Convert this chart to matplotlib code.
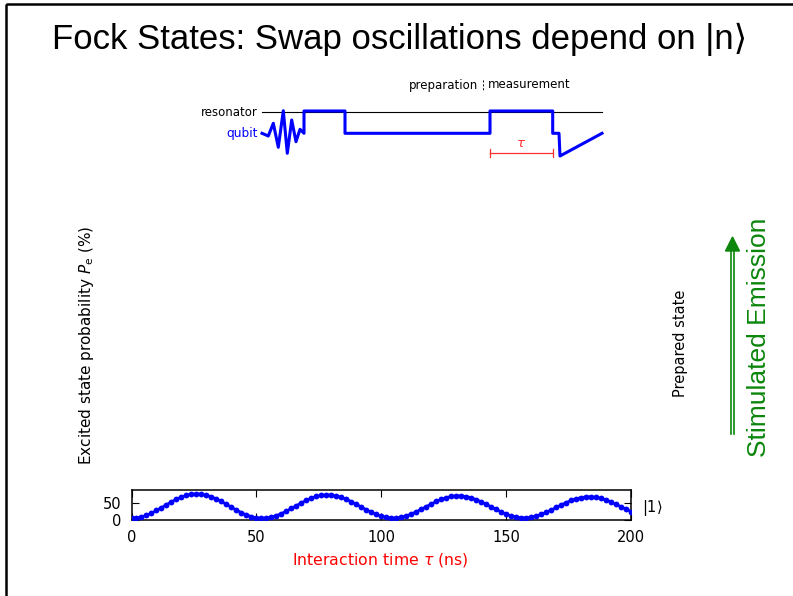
import numpy as np
import matplotlib
matplotlib.use('Agg')
import matplotlib.pyplot as plt
from matplotlib.patches import Rectangle, Polygon

plt.rcParams['font.family'] = ['DejaVu Sans']
plt.rcParams['mathtext.fontset'] = 'dejavusans'

# 
# swap oscillation data, prepared state |1>, one point every 2 ns
# 
tau_ns = np.arange(0, 201, 2)
pe_n1 = [5.0, 6.1, 9.3, 14.3, 20.9, 28.8, 37.3, 46.2, 54.8, 62.6,
         69.2, 74.2, 77.4, 78.6, 77.6, 74.6, 69.8, 63.3, 55.7, 47.3,
         38.6, 30.1, 22.3, 15.6, 10.4, 7.0, 5.6, 6.2, 8.9, 13.4,
         19.4, 26.7, 34.8, 43.2, 51.4, 59.1, 65.6, 70.7, 74.1, 75.6,
         75.1, 72.6, 68.4, 62.5, 55.4, 47.5, 39.2, 31.1, 23.5, 16.9,
         11.6, 8.0, 6.3, 6.5, 8.7, 12.6, 18.1, 24.8, 32.3, 40.3,
         48.2, 55.6, 62.1, 67.2, 70.8, 72.6, 72.5, 70.5, 66.8, 61.5,
         55.0, 47.6, 39.8, 31.9, 24.6, 18.1, 12.8, 9.1, 7.0, 6.9,
         8.6, 12.0, 16.9, 23.0, 30.1, 37.6, 45.2, 52.3, 58.6, 63.8,
         67.5, 69.6, 69.8, 68.3, 65.0, 60.3, 54.3, 47.4, 40.1, 32.6,
         25.5]
x_ticks = [0, 50, 100, 150, 200]
y_ticks = [0, 50]

# 
# pulse sequence sketch (pixel units of the slide)
# 
qubit_x = [262, 268.3, 273.3, 278.3, 283.3, 287.3, 291.7, 296, 300, 304,
           304, 345, 345, 490, 490, 552.7, 552.7, 559, 560, 602]
qubit_y = [133.3, 136, 123.3, 147.3, 110.7, 153.3, 120, 141.7, 129.3, 133.3,
           111, 111, 133.3, 133.3, 111, 111, 133.3, 133.3, 156, 133.3]
resonator_x = [262, 602]
resonator_y = [111.7, 111.7]
tau_x = [490, 552.7]
tau_y = 152.7

W, H = 793, 596
fig = plt.figure(figsize=(W/100.0, H/100.0), dpi=100)

# overlay in pixel coordinates for the slide elements
ov = fig.add_axes([0, 0, 1, 1])
ov.set_xlim(0, W)
ov.set_ylim(H, 0)
ov.axis('off')

# slide frame
ov.add_patch(Rectangle((6, 4), W, H, fill=False, ec='black', lw=1.8))

ov.text(400, 49, u'Fock States: Swap oscillations depend on |n\u27e9', ha='center', va='baseline',
        fontsize=25, family=['Liberation Sans', 'DejaVu Sans'])

# pulse sequence
ov.plot(resonator_x, resonator_y, color='black', lw=0.8)
ov.plot(qubit_x, qubit_y, color='blue', lw=2.2, solid_joinstyle='round')
ov.plot(tau_x, [tau_y, tau_y], color='#ff3030', lw=0.9)
ov.plot([tau_x[0], tau_x[0]], [tau_y-4, tau_y+4], color='#ff3030', lw=0.9)
ov.plot([tau_x[1], tau_x[1]], [tau_y-4, tau_y+4], color='#ff3030', lw=0.9)
ov.text(0.5*(tau_x[0]+tau_x[1]), tau_y-3, r'$\tau$', color='#ff3030', ha='center', va='bottom', fontsize=9.5)
ov.text(258, 112.5, 'resonator', ha='right', va='center', fontsize=8.5)
ov.text(258, 133, 'qubit', ha='right', va='center', fontsize=8.7, color='blue')
ov.text(478, 85, 'preparation', ha='right', va='center', fontsize=8.5)
ov.text(488, 85, 'measurement', ha='left', va='center', fontsize=8.5)
ov.plot([483, 483], [80, 91], color='black', lw=0.7, ls=(0, (2, 2)))

# side labels
ov.text(87, 345, r'Excited state probability $P_\mathrm{e}$ (%)', rotation=90,
        ha='center', va='center', fontsize=11)
ov.text(680, 343, 'Prepared state', rotation=90, ha='center', va='center', fontsize=10.5)
ov.text(759, 337, 'Stimulated Emission', rotation=90, ha='center', va='center',
        fontsize=19, color='#0c860c', family=['Liberation Sans', 'DejaVu Sans'])
ov.plot([730.8, 730.8], [434, 250], color='#0c860c', lw=1.2)
ov.plot([734.2, 734.2], [434, 250], color='#0c860c', lw=1.2)
ov.add_patch(Polygon([[725.5, 251], [739.5, 251], [732.5, 237]], closed=True, color='#0c860c'))
ov.text(380, 560, r'Interaction time $\tau$ (ns)', color='red', ha='center', va='center', fontsize=11.3)
ov.text(642, 508, r'$|1\rangle$', ha='left', va='center', fontsize=10.5)

# data panel
ax = fig.add_axes([131.5/W, (H-520)/float(H), 499.5/W, 30.0/H])
ax.plot(tau_ns, pe_n1, '-o', color='blue', lw=1.8, ms=4.2, mew=0, zorder=3)
ax.set_xlim(0, 200)
ax.set_ylim(0, 90)
ax.set_xticks(x_ticks)
ax.set_yticks(y_ticks)
ax.tick_params(direction='in', top=True, right=True, length=5, width=0.8, labelsize=10.5, pad=7)
for s in ax.spines.values():
    s.set_linewidth(1.1)

fig.savefig('out.png', dpi=100)
